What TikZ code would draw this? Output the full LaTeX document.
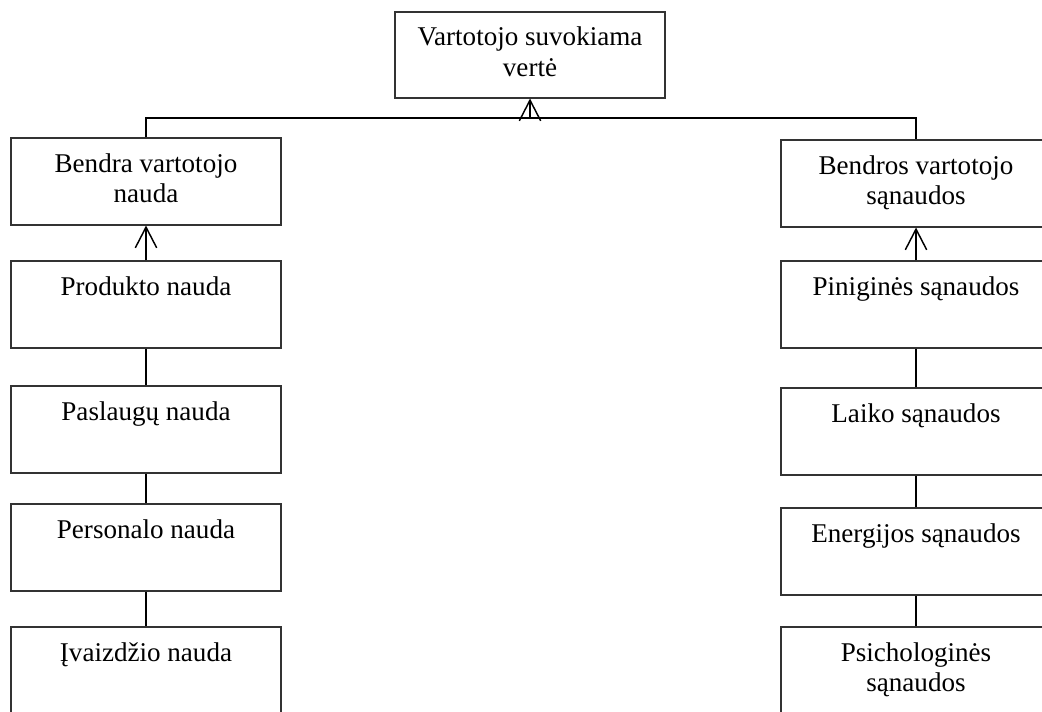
\documentclass[tikz,border=0pt]{standalone}
\usepackage{fontspec}
\setmainfont{Liberation Serif}
\usetikzlibrary{arrows.meta}

\begin{document}
\begin{tikzpicture}[x=0.75pt, y=-0.75pt,
		valueBox/.style={draw=black!80, line width=0.8pt, rectangle, minimum width=202.5pt, minimum height=65.25pt, inner sep=0pt, align=center, font=\fontsize{20.3}{22.6}\selectfont},
		link/.style={draw=black, line width=1.1pt},
		upArrow/.style={link, -{Straight Barb[length=15.5pt, width=16pt, line width=1.1pt]}}]
		\def\leftX{146};
		\def\rightX{916};
		\useasboundingbox (0,0) rectangle (1042,711);
		
		%top
		\node[valueBox, minimum height=64.5pt] (verte) at (530,55) {\strut Vartotojo suvokiama\\\strut vertė};
		
		%benefit column
		\node[valueBox] (bendraNauda) at (\leftX,181.5) {\strut Bendra vartotojo\\\strut nauda};
		\node[valueBox] (produktoNauda) at (\leftX,304.5) {\strut Produkto nauda\\\strut};
		\node[valueBox] (paslauguNauda) at (\leftX,429.5) {\strut Paslaugų nauda\\\strut};
		\node[valueBox] (personaloNauda) at (\leftX,547.5) {\strut Personalo nauda\\\strut};
		\node[valueBox] (ivaizdzioNauda) at (\leftX,670.5) {\strut Įvaizdžio nauda\\\strut};
		
		%cost column
		\node[valueBox] (bendrosSanaudos) at (\rightX,183.5) {\strut Bendros vartotojo\\\strut sąnaudos};
		\node[valueBox] (piniginesSanaudos) at (\rightX,304.5) {\strut Piniginės sąnaudos\\\strut};
		\node[valueBox] (laikoSanaudos) at (\rightX,431.5) {\strut Laiko sąnaudos\\\strut};
		\node[valueBox] (energijosSanaudos) at (\rightX,551.5) {\strut Energijos sąnaudos\\\strut};
		\node[valueBox] (psichologinesSanaudos) at (\rightX,670.5) {\strut Psichologinės\\\strut sąnaudos};
		
		%connectors
		\coordinate (join) at (530,118);
		\draw[link] (bendraNauda.north) |- (join) -| (bendrosSanaudos.north);
		\draw[upArrow] (join) -- (verte.south);
		
		\draw[upArrow] (produktoNauda.north) -- (bendraNauda.south);
		\draw[link] (produktoNauda) -- (paslauguNauda);
		\draw[link] (paslauguNauda) -- (personaloNauda);
		\draw[link] (personaloNauda) -- (ivaizdzioNauda);
		
		\draw[upArrow] (piniginesSanaudos.north) -- (bendrosSanaudos.south);
		\draw[link] (piniginesSanaudos) -- (laikoSanaudos);
		\draw[link] (laikoSanaudos) -- (energijosSanaudos);
		\draw[link] (energijosSanaudos) -- (psichologinesSanaudos);
	\end{tikzpicture}
\end{document}
